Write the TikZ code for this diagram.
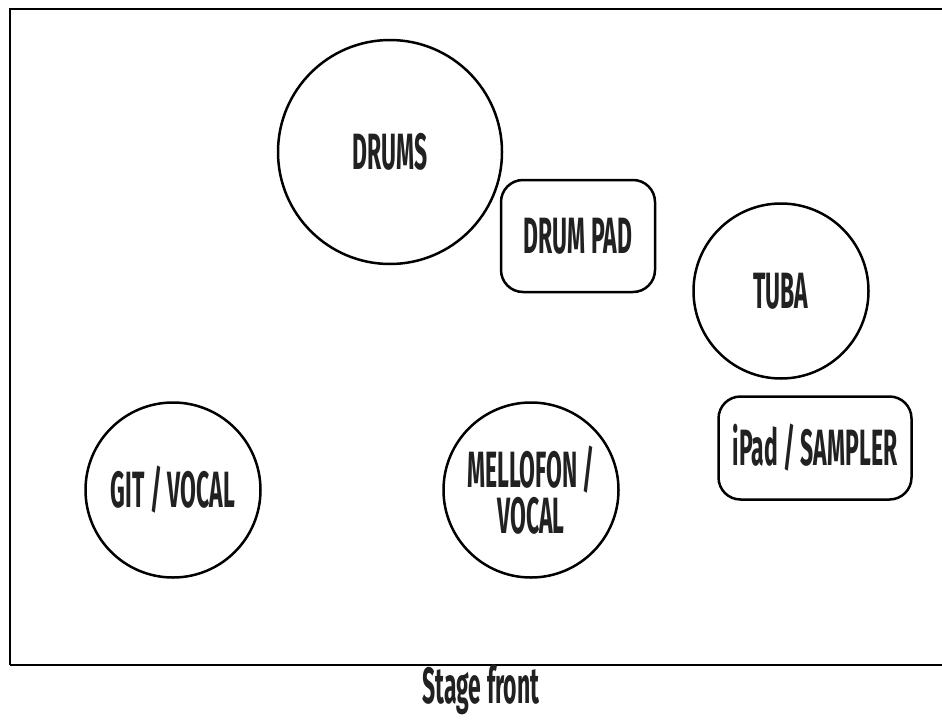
\documentclass[tikz,border=0pt]{standalone}
\usepackage{fontspec}
\newfontfamily\stagefont{Fira Sans}[FakeStretch=0.45]
\usepackage{tikz}
\usetikzlibrary{shapes, arrows}

\begin{document}
\begin{tikzpicture}[x=1pt, y=-1pt,
  txt/.style={font=\stagefont\bfseries\fontsize{51}{46}\selectfont, text=black!87, align=center},
  player/.style={circle, draw, line width=2.5pt, inner sep=0pt, minimum size=175pt, txt},
  gear/.style={rectangle, draw, line width=2.5pt, rounded corners=22pt, inner sep=0pt, txt}]
\useasboundingbox (0,0) rectangle (942,720);
\draw[line width=2.8pt] (10,665) -- (10,9) -- (990,9);
\draw[line width=2.8pt] (10,665) -- (990,665);

\node[player, minimum size=224pt] (drums) at (390,152) {DRUMS};
\node[gear, minimum width=154pt, minimum height=112pt] (pad) at (578,236) {DRUM PAD};
\node[player] (tuba) at (781,291) {TUBA};
\node[gear, minimum width=193pt, minimum height=103pt] (ipad) at (815,448) {iPad / SAMPLER};
\node[player] (git) at (173,490) {GIT / VOCAL};
\node[player] (mello) at (531,490) {MELLOFON /\\VOCAL};

\node[txt] (front) at (481,690) {Stage front};
\end{tikzpicture}
\end{document}
